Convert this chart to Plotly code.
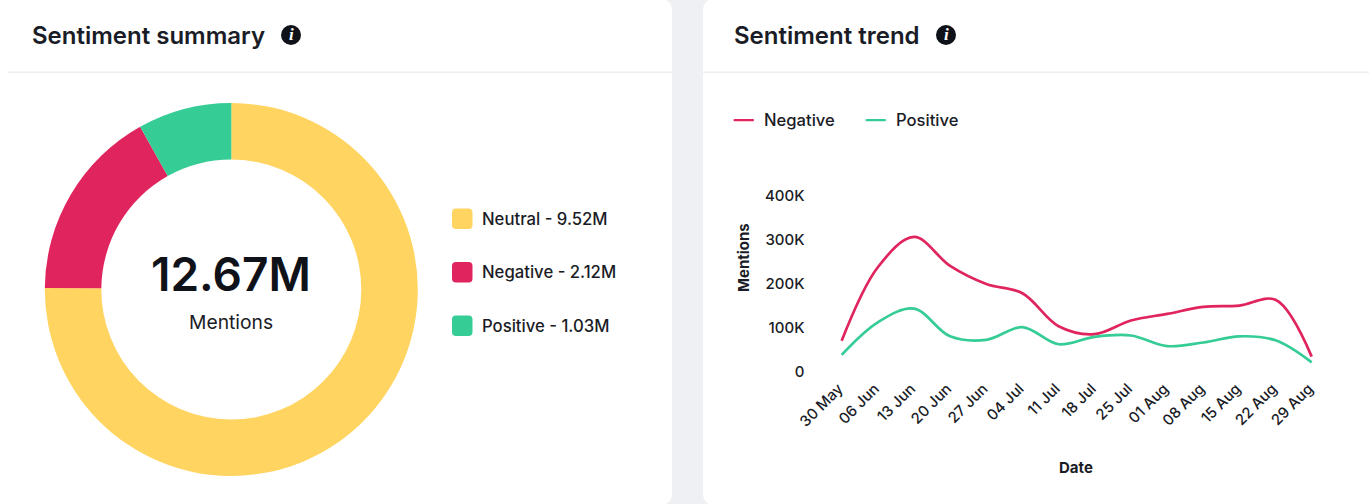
import plotly.graph_objects as go

W, H = 1369, 504
FONT = "Inter"
INK = "#1A1C26"

sentiments = ["Neutral", "Negative", "Positive"]
totals = [9.52, 2.12, 1.03]
total_label = "12.67M"
colors = ["#FFD461", "#E0245E", "#36CC96"]

dates = ["30 May", "06 Jun", "13 Jun", "20 Jun", "27 Jun", "04 Jul", "11 Jul",
         "18 Jul", "25 Jul", "01 Aug", "08 Aug", "15 Aug", "22 Aug", "29 Aug"]
negative = [71000, 238000, 307000, 241000, 200000, 179000, 104000,
            86000, 117000, 132000, 148000, 151000, 164000, 35000]
positive = [39000, 113000, 144000, 81000, 73000, 102000, 63000,
            80000, 83000, 59000, 67000, 81000, 72000, 22000]
y_ticks = [0, 100000, 200000, 300000, 400000]
y_labels = ["0", "100K", "200K", "300K", "400K"]


def px(x):
    return x / W


def py(y):
    return 1 - y / H


def pt(x, y):
    return f"{px(x):.6f},{py(y):.6f}"


def rounded(x0, y0, x1, y1, r):
    return (f"M{pt(x0+r,y0)} L{pt(x1-r,y0)} Q{pt(x1,y0)} {pt(x1,y0+r)} L{pt(x1,y1-r)} "
            f"Q{pt(x1,y1)} {pt(x1-r,y1)} L{pt(x0+r,y1)} Q{pt(x0,y1)} {pt(x0,y1-r)} "
            f"L{pt(x0,y0+r)} Q{pt(x0,y0)} {pt(x0+r,y0)} Z")


def shape(path, fill, layer="below"):
    return dict(type="path", xref="paper", yref="paper", path=path, fillcolor=fill,
                line=dict(width=0), layer=layer)


def dot(cx, cy, r, fill):
    return dict(type="circle", xref="paper", yref="paper", x0=px(cx - r), x1=px(cx + r),
                y0=py(cy + r), y1=py(cy - r), fillcolor=fill, line=dict(width=0), layer="above")


def text(x, y, s, size, weight=500, anchor="left", color=INK, style="normal", family=FONT, angle=0):
    return dict(x=px(x), y=py(y), xref="paper", yref="paper", text=s, showarrow=False,
                xanchor=anchor, yanchor="middle", align=anchor, textangle=angle, borderpad=0,
                font=dict(family=family, size=size, color=color, weight=weight, style=style))


fig = go.Figure()

fig.add_trace(go.Pie(labels=sentiments, values=totals, hole=0.697, sort=False, direction="clockwise",
                     rotation=0, marker=dict(colors=colors, line=dict(width=0)), textinfo="none",
                     showlegend=False, domain=dict(x=[px(44.8), px(417.8)], y=[py(476), py(103)])))

fig.add_trace(go.Scatter(x=dates, y=negative, mode="lines", name="Negative", showlegend=False,
                         line=dict(color=colors[1], width=2.7, shape="spline", smoothing=1.0)))
fig.add_trace(go.Scatter(x=dates, y=positive, mode="lines", name="Positive", showlegend=False,
                         line=dict(color=colors[2], width=2.7, shape="spline", smoothing=1.0)))

shapes = [
    shape(rounded(-20, -1, 672, 505, 12), "#FFFFFF"),
    shape(rounded(703, -1, 1400, 505, 12), "#FFFFFF"),
    shape(rounded(8, 71.5, 672, 73, 0), "#EEEFF1"),
    shape(rounded(703, 71.5, 1369, 73, 0), "#EEEFF1"),
    dot(291, 35, 10, "#10121A"),
    dot(946, 35, 10, "#10121A"),
    shape(rounded(733.5, 119, 754, 121.2, 1), colors[1]),
    shape(rounded(865.5, 119, 886, 121.2, 1), colors[2]),
]
for i, c in enumerate(colors):
    top = 208.5 + i * 53.5
    shapes.append(shape(rounded(452, top, 472.5, top + 20.5, 4), c))

annotations = [
    text(31, 35.5, "Sentiment summary", 24, 600),
    text(733, 35.5, "Sentiment trend", 24, 600),
    text(291, 35, "i", 17, 700, "center", "#FFFFFF", "italic", "Liberation Serif"),
    text(946, 35, "i", 17, 700, "center", "#FFFFFF", "italic", "Liberation Serif"),
    text(231, 274, total_label, 46, 600, "center", "#10121A"),
    text(231, 321.5, "Mentions", 19.3, 400, "center"),
    text(763, 120, "Negative", 16.6, 500),
    text(895, 120, "Positive", 16.6, 500),
    text(743, 257, "Mentions", 15, 700, "center", angle=-90),
    text(1076, 467, "Date", 15, 700, "center"),
]
for i, (name, value) in enumerate(zip(sentiments, totals)):
    annotations.append(text(481, 218.5 + i * 53.5, f"{name} - {value:.2f}M", 16.7, 500))

fig.update_layout(
    width=W, height=H, autosize=False,
    margin=dict(l=0, r=0, t=0, b=0),
    paper_bgcolor="#EEF0F3", plot_bgcolor="rgba(0,0,0,0)",
    font=dict(family=FONT, color=INK),
    showlegend=False,
    xaxis=dict(domain=[px(805.5), px(1315.3)], range=[-1, 13.1], type="category",
               categoryorder="array", categoryarray=dates, tickangle=-45, ticks="",
               showgrid=False, zeroline=False, showline=False, ticklabelstandoff=4, ticklabelshift=-3,
               tickfont=dict(size=15, family=FONT, weight=500, color=INK), automargin=False),
    yaxis=dict(domain=[py(372), py(196)], range=[0, 400000], tickvals=y_ticks, ticktext=y_labels,
               ticks="", showgrid=False, zeroline=False, showline=False, automargin=False,
               tickfont=dict(size=15, family=FONT, weight=500, color=INK)),
    shapes=shapes,
    annotations=annotations,
)

fig.write_html("out.html", config=dict(displayModeBar=False),
               post_script="document.body.style.margin='0';document.documentElement.style.overflow='hidden';")
